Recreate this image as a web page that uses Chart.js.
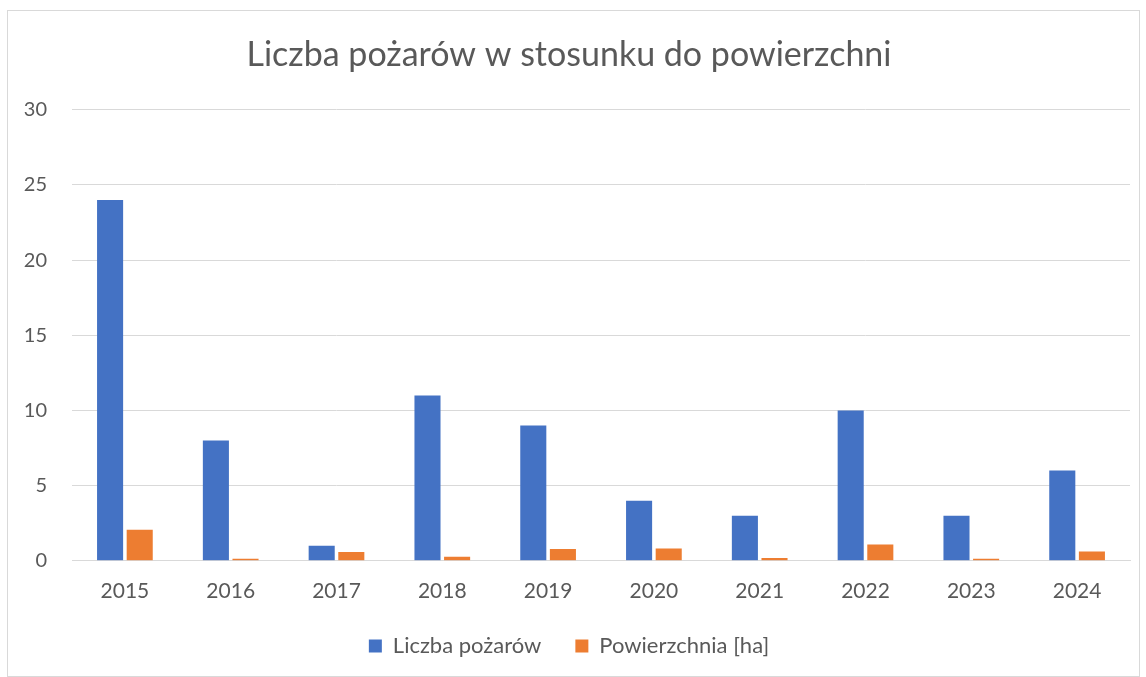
<!DOCTYPE html>
<html>
<head>
<meta charset="utf-8">
<script src="https://cdn.jsdelivr.net/npm/chart.js@4/dist/chart.umd.min.js"></script>
<style>
  body { margin: 0; background: #fff; }
  #box { position: absolute; left: 7px; top: 10px; width: 1131px; height: 665px; border: 1px solid #d9d9d9; background: #fff; }
</style>
</head>
<body>
<div id="box"><canvas id="mycanvas" width="1131" height="665"></canvas></div>
<script>
var years = ["2015", "2016", "2017", "2018", "2019", "2020", "2021", "2022", "2023", "2024"];
var liczbaPozarow = [24, 8, 1, 11, 9, 4, 3, 10, 3, 6];
var powierzchnia = [2.07, 0.13, 0.58, 0.27, 0.78, 0.82, 0.18, 1.09, 0.13, 0.62];
var yTicks = [0, 5, 10, 15, 20, 25, 30];

var textColor = "#595959";
var gridColor = "#d9d9d9";
var fontFam = "Lato, 'Open Sans', sans-serif";

var chartdata = {
  labels: years,
  datasets: [
    {
      label: "Liczba pożarów",
      backgroundColor: "#4472C4",
      data: liczbaPozarow,
      categoryPercentage: 0.56,
      barPercentage: 0.88
    },
    {
      label: "Powierzchnia [ha]",
      backgroundColor: "#ED7D31",
      data: powierzchnia,
      categoryPercentage: 0.56,
      barPercentage: 0.88
    }
  ]
};

var ctx = document.getElementById("mycanvas");

var BarGraph = new Chart(ctx, {
  type: 'bar',
  data: chartdata,
  options: {
    responsive: false,
    animation: false,
    layout: { padding: { left: 0, right: 9, top: 0, bottom: 9 } },
    plugins: {
      title: {
        display: true,
        text: "Liczba pożarów w stosunku do powierzchni",
        color: textColor,
        font: { family: fontFam, size: 34, weight: 'normal' },
        padding: { top: 24, bottom: 34 }
      },
      legend: {
        position: 'bottom',
        labels: {
          color: textColor,
          font: { family: fontFam, size: 22 },
          boxWidth: 13,
          boxHeight: 13,
          padding: 34
        }
      },
      tooltip: { enabled: false }
    },
    scales: {
      x: {
        afterFit: function(scale) { scale.height -= 21; },
        grid: { display: false, drawTicks: false },
        border: { color: gridColor, width: 1 },
        ticks: {
          color: textColor,
          font: { family: fontFam, size: 21 },
          padding: 18
        }
      },
      y: {
        min: 0,
        max: 30,
        afterBuildTicks: function(scale) {
          scale.ticks = yTicks.map(function(v) { return { value: v }; });
        },
        afterFit: function(scale) { scale.width = 64; },
        grid: { color: gridColor, drawTicks: false },
        border: { display: false },
        ticks: {
          color: textColor,
          font: { family: fontFam, size: 20 },
          padding: 25
        }
      }
    }
  }
});
</script>
</body>
</html>
